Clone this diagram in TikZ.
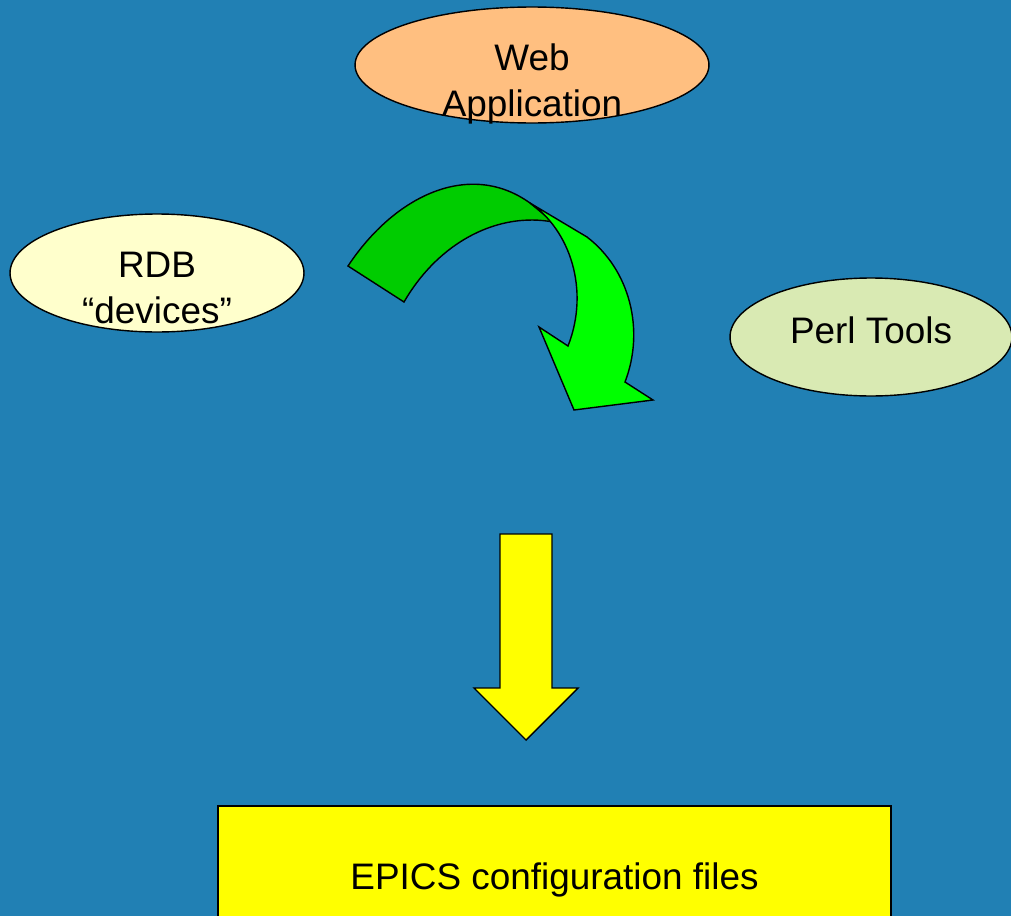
\documentclass[tikz,border=0pt]{standalone}
\usepackage{fontspec}
\setmainfont{Liberation Sans}
\usetikzlibrary{shapes.geometric}
\definecolor{slideblue}{RGB}{33,128,180}
\definecolor{webfill}{RGB}{255,191,128}
\definecolor{rdbfill}{RGB}{255,255,204}
\definecolor{perlfill}{RGB}{217,234,179}
\definecolor{darkgreen}{RGB}{0,204,0}
\definecolor{lightgreen}{RGB}{0,255,0}
\definecolor{boxyellow}{RGB}{255,255,0}
\begin{document}
\begin{tikzpicture}[x=0.02cm, y=-0.02cm, line width=0.8pt, line join=miter,
  every node/.style={align=center, font=\fontsize{21}{26}\selectfont},
  bubble/.style={draw, ellipse, inner sep=0pt}]
\useasboundingbox (0,0) rectangle (1011,916);
\clip (0,0) rectangle (1011,916);
\fill[slideblue] (0,0) rectangle (1011,916);

\node[bubble, fill=webfill, minimum width=7.08cm, minimum height=2.32cm] (web) at (532,65) {};
\node[yshift=-0.38cm] (webtxt) at (web.center) {Web\\Application};
\node[bubble, fill=rdbfill, minimum width=5.88cm, minimum height=2.36cm] (rdb) at (157,273) {};
\node[yshift=-0.3cm] (rdbtxt) at (rdb.center) {RDB\\“devices”};
\node[bubble, fill=perlfill, minimum width=5.64cm, minimum height=2.36cm] (perl) at (871,337) {};
\node[yshift=0.14cm] (perltxt) at (perl.center) {Perl Tools};
\node[draw, fill=boxyellow, minimum width=13.46cm, minimum height=2.96cm] (epics) at (554.5,880) {EPICS configuration files};

% curved arrow, two pieces
\filldraw[fill=darkgreen] (348,266) .. controls (395,195) and (470,160) .. (530,203)
  -- (553,222) .. controls (500,212) and (440,240) .. (404,302) -- cycle;
\filldraw[fill=lightgreen] (530,203) -- (587,237) .. controls (630,270) and (645,330) .. (625,382)
  -- (653,400) -- (574,410) -- (539,327) -- (568,346)
  .. controls (590,290) and (570,230) .. (530,203) -- cycle;

\filldraw[fill=boxyellow] (500,534) -- (552,534) -- (552,688) -- (578,688) -- (526,740)
  -- (474,688) -- (500,688) -- cycle;
\end{tikzpicture}
\end{document}
